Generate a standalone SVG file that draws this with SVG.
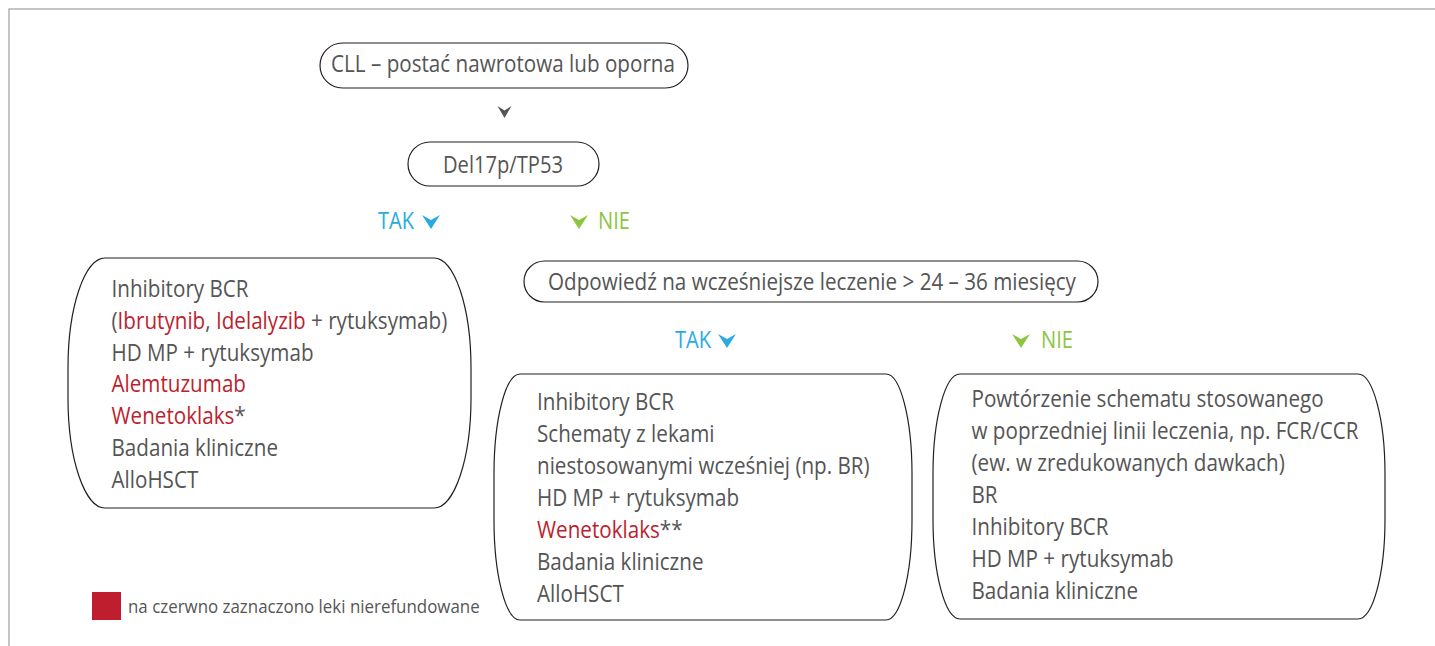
<svg xmlns="http://www.w3.org/2000/svg" width="1435" height="646" viewBox="0 0 1435 646">
<style>
.frame{fill:none;stroke:#b3b3b3;stroke-width:1.5}
.box{fill:#fff;stroke:#231f20;stroke-width:1.2}
text{font-family:"Open Sans","Liberation Sans",sans-serif;font-size:24px;fill:#555}
.c{text-anchor:middle}
.red{fill:#be1e2d}
.blue{fill:#29abe2}
.green{fill:#8cc63f}
.gray{fill:#555}
.leg{font-size:19px}
</style>
<defs>
<path id="chev" d="M0,0 L9,5 L18,0 L9,14 Z"/>
<path id="chevs" d="M0,0 L7,4.5 L14,0 L7,12 Z"/>
</defs>
<rect width="1435" height="646" fill="#fff"/>
<path class="frame" d="M9,646 V9 H1435"/>

<g id="connectors">
<use href="#chevs" x="497.5" y="106" class="gray"/>
<use href="#chev" x="422" y="215" class="blue"/>
<use href="#chev" x="570" y="215" class="green"/>
<use href="#chev" x="718" y="334" class="blue"/>
<use href="#chev" x="1012" y="334" class="green"/>
<text class="blue" transform="translate(378,229) scale(.84,1)">TAK</text>
<text class="green" transform="translate(598,229) scale(.84,1)">NIE</text>
<text class="blue" transform="translate(675,348) scale(.84,1)">TAK</text>
<text class="green" transform="translate(1041,348) scale(.84,1)">NIE</text>
</g>

<g id="n-cll">
<rect class="box" x="320" y="43" width="368" height="45" rx="22.5" ry="22.5"/>
<text class="c" transform="translate(503,72) scale(.86,1)">CLL – postać nawrotowa lub oporna</text>
</g>

<g id="n-del">
<rect class="box" x="408" y="142" width="191" height="44" rx="22" ry="22"/>
<text class="c" transform="translate(503,173) scale(.84,1)">Del17p/TP53</text>
</g>

<g id="n-odp">
<rect class="box" x="524" y="261" width="574" height="41" rx="20.5" ry="20.5"/>
<text class="c" transform="translate(812,290) scale(.86,1)">Odpowiedź na wcześniejsze leczenie &gt; 24 – 36 miesięcy</text>
</g>

<g id="n-left">
<rect class="box" x="68" y="258" width="403" height="250" rx="37" ry="110"/>
<text transform="translate(111.5,297) scale(.86,1)">Inhibitory BCR</text>
<text transform="translate(111.5,329) scale(.86,1)">(<tspan class="red">Ibrutynib</tspan>, <tspan class="red">Idelalyzib</tspan> + rytuksymab)</text>
<text transform="translate(111.5,361) scale(.86,1)">HD MP + rytuksymab</text>
<text class="red" transform="translate(111.5,392) scale(.86,1)">Alemtuzumab</text>
<text transform="translate(111.5,424) scale(.86,1)"><tspan class="red">Wenetoklaks</tspan>*</text>
<text transform="translate(111.5,456) scale(.86,1)">Badania kliniczne</text>
<text transform="translate(111.5,488) scale(.86,1)">AlloHSCT</text>
</g>

<g id="n-mid">
<rect class="box" x="494" y="374" width="418" height="246" rx="26" ry="100"/>
<text transform="translate(537,410) scale(.86,1)">Inhibitory BCR</text>
<text transform="translate(537,442) scale(.86,1)">Schematy z lekami</text>
<text transform="translate(537,474) scale(.86,1)">niestosowanymi wcześniej (np. BR)</text>
<text transform="translate(537,506) scale(.86,1)">HD MP + rytuksymab</text>
<text transform="translate(537,538) scale(.86,1)"><tspan class="red">Wenetoklaks</tspan>**</text>
<text transform="translate(537,570) scale(.86,1)">Badania kliniczne</text>
<text transform="translate(537,602) scale(.86,1)">AlloHSCT</text>
</g>

<g id="n-right">
<rect class="box" x="933" y="374" width="452" height="245" rx="27" ry="100"/>
<text transform="translate(971.5,407) scale(.86,1)">Powtórzenie schematu stosowanego</text>
<text transform="translate(971.5,439) scale(.86,1)">w poprzedniej linii leczenia, np. FCR/CCR</text>
<text transform="translate(971.5,471) scale(.86,1)">(ew. w zredukowanych dawkach)</text>
<text transform="translate(971.5,503) scale(.86,1)">BR</text>
<text transform="translate(971.5,535) scale(.86,1)">Inhibitory BCR</text>
<text transform="translate(971.5,567) scale(.86,1)">HD MP + rytuksymab</text>
<text transform="translate(971.5,599) scale(.86,1)">Badania kliniczne</text>
</g>

<g id="legend">
<rect x="92" y="592" width="29" height="28" fill="#be1e2d"/>
<text class="leg" transform="translate(128,613) scale(.89,1)">na czerwno zaznaczono leki nierefundowane</text>
</g>
</svg>
